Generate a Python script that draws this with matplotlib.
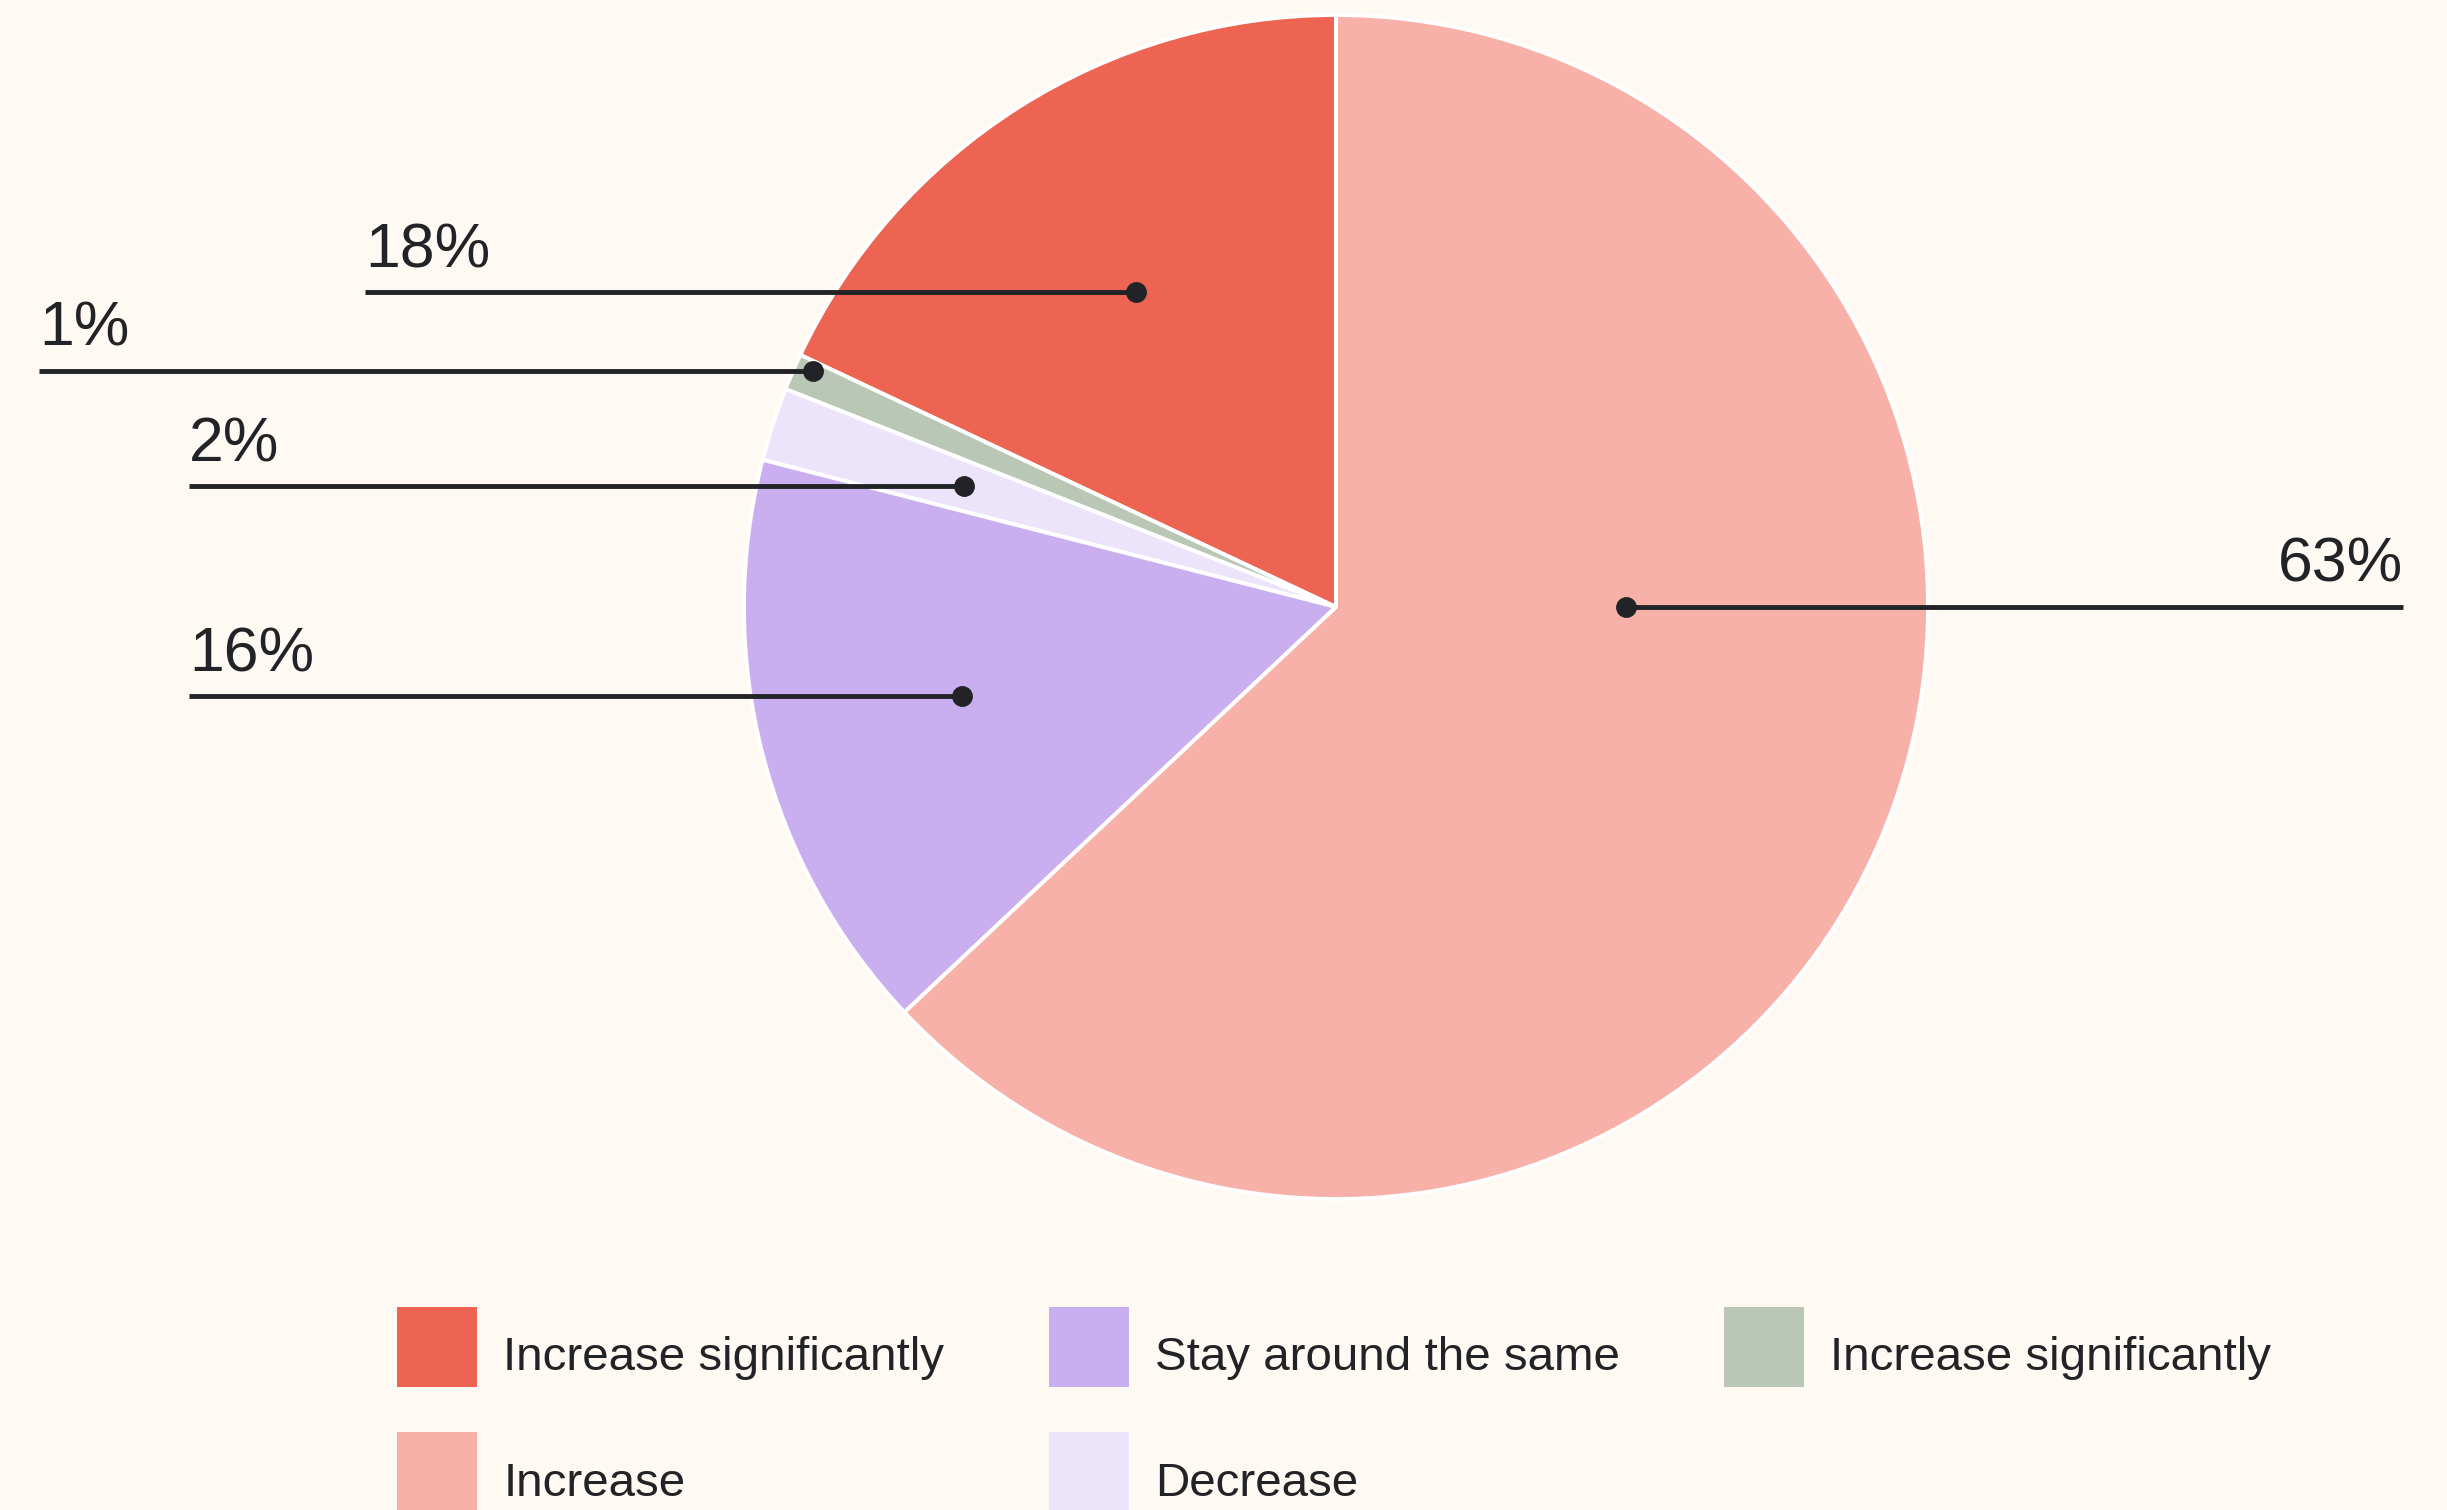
import numpy as np
import matplotlib
matplotlib.use("Agg")
import matplotlib.pyplot as plt
from matplotlib.lines import Line2D

# ---- data (pie order, counter-clockwise from 12 o'clock) ----
categories = ["Increase significantly", "Increase significantly", "Decrease",
              "Stay around the same", "Increase"]
values = [18, 1, 2, 16, 63]
colors = ["#EE6452", "#BAC7B6", "#ECE4FA", "#C9AFF0", "#F7B1A9"]
legend_order = [0, 4, 3, 2, 1]

# ---- label layout (style) ----
dot_frac = [0.63, 0.97, 0.66, 0.65, 0.49]
angle_override = [None, 155.7, None, 193.4, 0.0]
line_end_x = [365, 39, 189, 189, 2403]

W, H = 2447, 1510
BG = "#FEF9F2"
INK = "#222326"
plt.rcParams['font.family'] = ['Liberation Sans', 'DejaVu Sans']

fig = plt.figure(figsize=(W / 100, H / 100), dpi=100, facecolor=BG)
ax = fig.add_axes([0, 0, 1, 1])
ax.set_facecolor(BG)

cx, cy, R = 1336, H - 607, 592
wedges, _ = ax.pie(values, colors=colors, startangle=90, counterclock=True,
                   center=(cx, cy), radius=R,
                   wedgeprops=dict(edgecolor="white", linewidth=2.8))
ax.set_xlim(0, W)
ax.set_ylim(0, H)
ax.set_aspect("equal")
ax.axis("off")

total = sum(values)
start = 90.0
for i, v in enumerate(values):
    span = 360.0 * v / total
    mid = start + span / 2
    start += span
    ang = angle_override[i] if angle_override[i] is not None else mid
    t = np.deg2rad(ang)
    dx = cx + dot_frac[i] * R * np.cos(t)
    dy = cy + dot_frac[i] * R * np.sin(t)
    xe = line_end_x[i]
    ax.plot([dx, xe], [dy, dy], color=INK, lw=3.5, solid_capstyle="butt", zorder=5)
    ax.plot([dx], [dy], marker="o", ms=14, color=INK, zorder=6)
    ha = "left" if xe < dx else "right"
    ax.text(xe, dy + 25, f"{v}%", ha=ha, va="baseline", fontsize=45, color=INK,
            zorder=6, fontstretch="condensed")

handles = [Line2D([], [], marker="s", linestyle="none", markersize=57.6,
                  markerfacecolor=colors[i], markeredgewidth=0) for i in legend_order]
labels = [categories[i] for i in legend_order]
fs = 34.2
fig.legend(handles, labels, ncol=3, loc="upper left",
           bbox_to_anchor=(397 / W, 1 - 1323 / H), bbox_transform=fig.transFigure,
           frameon=False, fontsize=fs, handlelength=80 / 47.5, handleheight=1.68,
           handletextpad=0.55, columnspacing=2.2, labelspacing=1.31,
           borderpad=0, borderaxespad=0, numpoints=1, labelcolor=INK)

fig.savefig("out.png", dpi=100, facecolor=BG)
